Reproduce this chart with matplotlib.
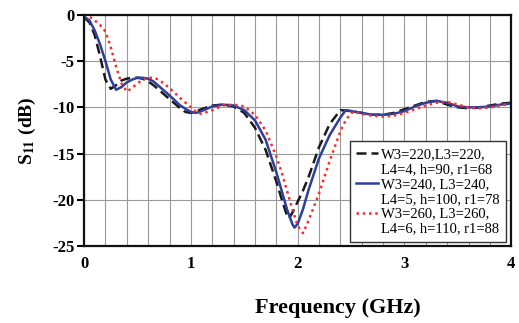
import matplotlib
matplotlib.use("Agg")
import matplotlib.pyplot as plt
from matplotlib.lines import Line2D

plt.rcParams['font.family'] = ['Liberation Serif', 'DejaVu Serif']
plt.rcParams['mathtext.fontset'] = 'stix'

# W3=220 (black dashed)
freq_a = [0, 0.05, 0.1, 0.15, 0.2, 0.25, 0.3, 0.35, 0.4, 0.45, 0.5, 0.55, 0.6, 0.65, 0.7,
          0.8, 0.9, 0.95, 1.0, 1.1, 1.2, 1.3, 1.4, 1.5, 1.6, 1.7, 1.8, 1.85, 1.9, 1.92,
          1.95, 2.0, 2.05, 2.1, 2.2, 2.3, 2.4, 2.5, 2.6, 2.7, 2.8, 2.9, 3.0, 3.1, 3.2,
          3.3, 3.4, 3.5, 3.6, 3.7, 3.8, 3.9, 4.0]
s11_a = [-0.3, -0.8, -2.2, -4.5, -7.0, -8.0, -7.6, -7.1, -6.9, -6.8, -6.8, -6.9, -7.2, -7.6, -8.1,
         -9.1, -10.1, -10.5, -10.6, -10.2, -9.8, -9.7, -9.9, -10.6, -12.2, -14.6, -18.0, -19.9, -21.7, -22.0,
         -21.4, -20.2, -19.0, -17.6, -14.3, -11.8, -10.3, -10.4, -10.6, -10.8, -10.8, -10.6, -10.2, -9.8, -9.4,
         -9.3, -9.7, -10.0, -10.1, -10.0, -9.8, -9.6, -9.5]

# W3=240 (blue solid)
freq_b = [0, 0.05, 0.1, 0.15, 0.2, 0.25, 0.3, 0.35, 0.4, 0.45, 0.5, 0.55, 0.6, 0.65, 0.7,
          0.8, 0.9, 1.0, 1.05, 1.1, 1.2, 1.3, 1.4, 1.5, 1.6, 1.7, 1.8, 1.85, 1.9, 1.95,
          1.97, 2.0, 2.05, 2.1, 2.2, 2.3, 2.4, 2.45, 2.5, 2.6, 2.7, 2.8, 2.9, 3.0, 3.1,
          3.2, 3.3, 3.4, 3.5, 3.6, 3.7, 3.8, 3.9, 4.0]
s11_b = [-0.2, -0.6, -1.7, -3.2, -5.0, -7.0, -8.1, -7.8, -7.3, -7.0, -6.8, -6.8, -6.9, -7.2, -7.7,
         -8.7, -9.8, -10.5, -10.6, -10.4, -9.9, -9.7, -9.8, -10.3, -11.4, -13.5, -17.0, -19.0, -21.0, -22.6,
         -23.0, -22.6, -21.0, -19.0, -15.5, -13.0, -11.1, -10.3, -10.4, -10.6, -10.8, -10.8, -10.7, -10.4, -9.9,
         -9.5, -9.3, -9.5, -9.9, -10.0, -10.0, -9.9, -9.7, -9.6]

# W3=260 (red dotted)
freq_c = [0, 0.05, 0.1, 0.15, 0.2, 0.25, 0.3, 0.35, 0.4, 0.45, 0.5, 0.55, 0.6, 0.65, 0.7,
          0.8, 0.9, 1.0, 1.05, 1.1, 1.2, 1.3, 1.4, 1.5, 1.6, 1.7, 1.8, 1.85, 1.9, 1.95,
          2.0, 2.05, 2.1, 2.2, 2.3, 2.4, 2.45, 2.5, 2.55, 2.6, 2.7, 2.8, 2.9, 3.0, 3.1,
          3.2, 3.3, 3.4, 3.5, 3.6, 3.7, 3.8, 3.9, 4.0]
s11_c = [0.0, -0.2, -0.6, -1.1, -1.8, -3.5, -5.6, -7.4, -8.3, -7.9, -7.4, -7.0, -6.8, -6.8, -7.0,
         -7.9, -9.0, -10.0, -10.5, -10.7, -10.3, -9.8, -9.7, -9.9, -10.8, -12.5, -15.3, -17.0, -19.0, -21.0,
         -22.8, -23.6, -22.3, -19.3, -15.8, -12.6, -11.4, -10.6, -10.5, -10.7, -10.9, -11.0, -10.9, -10.6, -10.2,
         -9.8, -9.5, -9.4, -9.7, -10.0, -10.1, -10.0, -9.8, -9.6]

label_first = ['W3=220,L3=220,', 'W3=240, L3=240,', 'W3=260, L3=260,']
label_second = ['L4=4, h=90, r1=68', 'L4=5, h=100, r1=78', 'L4=6, h=110, r1=88']

fig = plt.figure(figsize=(5.19, 3.23), dpi=100)
ax = fig.add_axes([0.162, 0.238, 0.823, 0.716])

la, = ax.plot(freq_a, s11_a, color='#1a1a1a', ls=(0, (4, 2)), lw=1.8)
lb, = ax.plot(freq_b, s11_b, color='#2e3e9c', ls='-', lw=1.8)
lc, = ax.plot(freq_c, s11_c, color='#ff2a2a', ls=(0, (1, 1.5)), lw=1.8)

ax.set_xlim(0, 4)
ax.set_ylim(-25, 0)
ax.set_xticks([0, 1, 2, 3, 4])
ax.set_xticks([i * 0.2 for i in range(21)], minor=True)
ax.set_yticks([0, -5, -10, -15, -20, -25])
ax.set_yticklabels(['0', '-5', '-10', '-15', '-20', '-25'])
ax.grid(True, which='both', axis='x', color='#9a9a9a', lw=0.8)
ax.grid(True, which='major', axis='y', color='#9a9a9a', lw=0.8)
ax.tick_params(axis='x', which='both', length=0, pad=7, labelsize=12)
ax.tick_params(axis='y', length=5, width=1.5, pad=2, labelsize=12)
for lab in ax.get_xticklabels() + ax.get_yticklabels():
    lab.set_fontweight('bold')
for s in ax.spines.values():
    s.set_linewidth(1.6)
    s.set_color('#111111')

ax.set_xlabel('Frequency (GHz)', fontsize=16, fontweight='bold')
ax.xaxis.set_label_coords(0.595, -0.225)
ax.set_ylabel(r'S$_{\mathbf{11}}$ (dB)', fontsize=14, fontweight='bold')
ax.yaxis.set_label_coords(-0.108, 0.5)

# legend: handle on the first line of each two-line entry
blank = Line2D([], [], color='none')
handles, texts = [], []
for h, t1, t2 in zip([la, lb, lc], label_first, label_second):
    handles += [h, blank]
    texts += [t1, t2]
leg = ax.legend(handles, texts, loc='lower right', bbox_to_anchor=(0.988, 0.017), fontsize=10.5,
                handlelength=1.5, handletextpad=0.2, labelspacing=0.12,
                borderpad=0.45, borderaxespad=0, fancybox=False, framealpha=1)
leg.get_frame().set_edgecolor('#333333')
leg.get_frame().set_linewidth(1.0)

fig.savefig('out.png', dpi=100)
